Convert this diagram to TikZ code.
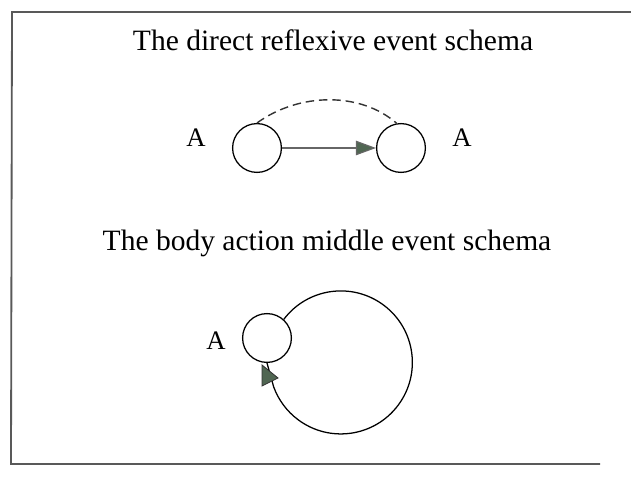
\documentclass[tikz,border=0pt]{standalone}
\usepackage{fontspec}
\setmainfont{Liberation Serif}
\usetikzlibrary{arrows.meta}
\definecolor{tipgreen}{RGB}{80,102,82}
\tikzset{
  ent/.style={circle, draw, line width=0.9pt, minimum size=1.22cm, inner sep=0pt},
  title/.style={font=\fontsize{21}{25}\selectfont},
  lab/.style={font=\fontsize{19}{22}\selectfont}
}
\begin{document}
\begin{tikzpicture}[x=0.025cm, y=-0.025cm]
  \useasboundingbox (0,0) rectangle (631,477);
  % frame
  \draw[line width=1.3pt, black!65] (631,12) -- (12,12) -- (11,464) -- (600,464);

  % direct reflexive schema
  \node[title] (t1) at (333,40) {The direct reflexive event schema};
  \node[ent] (a1) at (257,148) {};
  \node[ent] (a2) at (401,148) {};
  \node[lab] (la1) at (196,138) {A};
  \node[lab] (la2) at (462,138) {A};
  \draw[black!60, line width=0.8pt,
    -{Triangle[length=0.5cm, width=0.36cm, fill=tipgreen]}] (a1) -- (a2);
  \draw[line width=1pt, black!80, dash pattern=on 6pt off 3.5pt]
    (a1.north) .. controls (300,92) and (361,92) .. (a2.100);

  % body action middle schema
  \node[title] (t2) at (327,243) {The body action middle event schema};
  \node[ent] (b) at (267,338) {};
  \node[lab] (lb) at (216,341) {A};
  \draw[line width=0.9pt] (b.48) arc[start angle=-143, end angle=160, radius=71.5]
    -- (b.south);
  \fill[tipgreen, draw=black!80, line width=0.6pt] (262,365) -- (262,386) -- (278,378) -- cycle;
\end{tikzpicture}
\end{document}
